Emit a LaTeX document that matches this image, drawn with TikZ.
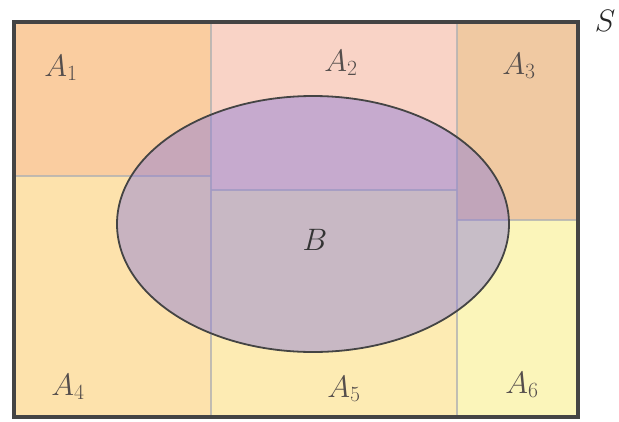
\RequirePackage{fix-cm}
\documentclass[tikz,border=0pt]{standalone}
\usepackage{xcolor}
\usepackage{tikz}
\usetikzlibrary{positioning}

\definecolor{aone}{RGB}{250,205,160}
\definecolor{atwo}{RGB}{249,211,198}
\definecolor{athree}{RGB}{240,201,162}
\definecolor{afour}{RGB}{253,226,172}
\definecolor{afive}{RGB}{253,235,179}
\definecolor{asix}{RGB}{251,245,186}
\definecolor{bset}{RGB}{137,122,217}
\definecolor{rim}{RGB}{68,68,68}
\definecolor{lbl}{RGB}{85,78,76}

\begin{document}
\begin{tikzpicture}[
  x=1pt, y=-1pt,
  font=\fontsize{31}{36}\selectfont,
  region/.style={draw=none},
  divider/.style={draw=gray!60, line width=1.8pt, opacity=0.8},
  setlabel/.style={text=lbl, inner sep=0pt},
]
\useasboundingbox (0,0) rectangle (619,421);

% ---------- Partition of S ----------
\fill[region, aone]   (14,22)  rectangle (211,176);
\fill[region, atwo]   (211,22) rectangle (457,190);
\fill[region, athree] (457,22) rectangle (578,220);
\fill[region, afour]  (14,176) rectangle (211,417);
\fill[region, afive]  (211,190) rectangle (457,417);
\fill[region, asix]   (457,220) rectangle (578,417);

\draw[divider] (211,22) -- (211,417);
\draw[divider] (457,22) -- (457,417);
\draw[divider] (14,176) -- (211,176);
\draw[divider] (211,190) -- (457,190);
\draw[divider] (457,220) -- (578,220);

% ---------- Event B ----------
\filldraw[fill=bset, fill opacity=0.45, draw=rim, line width=1.8pt]
  (313,224) ellipse [x radius=196, y radius=128];

\draw[rim, line width=3.4pt] (14,22) rectangle (578,417);

% ---------- Labels ----------
\node[setlabel] (a1) at (61,68)  {$A_1$};
\node[setlabel] (a2) at (341,63) {$A_2$};
\node[setlabel] (a3) at (519,66) {$A_3$};
\node[setlabel] (a4) at (68,387) {$A_4$};
\node[setlabel] (a5) at (344,389) {$A_5$};
\node[setlabel] (a6) at (522,385) {$A_6$};
\node[setlabel, text=black!80] (b) at (315,240) {$B$};
\node[setlabel, text=black!85] (s) at (605,21) {$S$};

\end{tikzpicture}
\end{document}
